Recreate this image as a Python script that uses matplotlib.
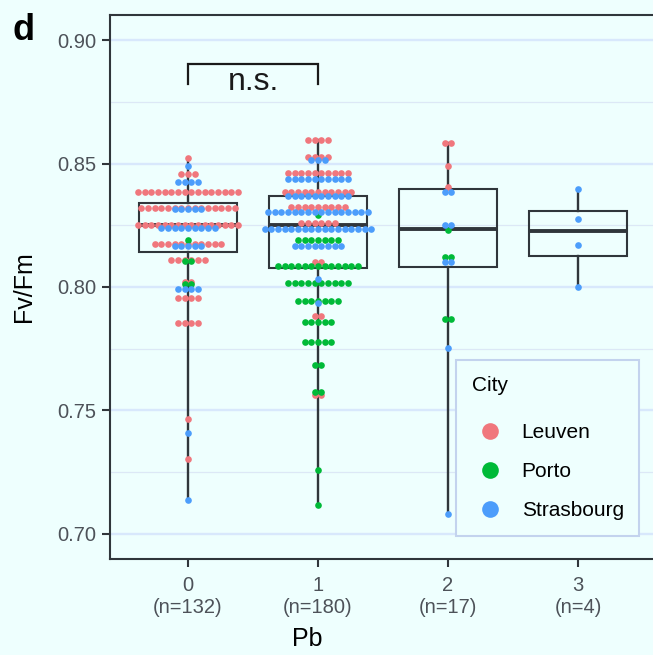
import numpy as np
import matplotlib
matplotlib.use("Agg")
import matplotlib.pyplot as plt
from matplotlib.lines import Line2D

# ================================================================================
# Fv/Fm by Pb level, dots coloured by city, boxplot behind
pb_levels = [0, 1, 2, 3]
n_obs = [132, 180, 17, 4]
cities = ["Leuven", "Porto", "Strasbourg"]
city_colors = ["#F0777D", "#00BA38", "#4C9DFB"]

# Leuven: pb level, Fv/Fm value, number of dots at that value
leuven_pb = [0, 0, 0, 0, 0, 0, 0, 0, 0, 0, 0, 0,
             1, 1, 1, 1, 1, 1, 1, 1, 1,
             2, 2, 2]
leuven_fv = [0.8521, 0.8459, 0.8383, 0.8319, 0.8251, 0.8173, 0.8109, 0.8022, 0.7954, 0.7853, 0.7465, 0.7304,
             0.8595, 0.8528, 0.8460, 0.8386, 0.8325, 0.8258, 0.8100, 0.7884, 0.7564,
             0.8584, 0.8490, 0.8403]
leuven_cnt = [1, 3, 16, 15, 16, 11, 6, 2, 4, 4, 1, 1,
              4, 4, 10, 11, 9, 6, 2, 2, 2,
              2, 1, 1]

porto_pb = [0, 0, 0,
            1, 1, 1, 1, 1, 1, 1, 1, 1, 1, 1,
            2, 2, 2]
porto_fv = [0.8190, 0.8104, 0.8011,
            0.8290, 0.8190, 0.8085, 0.8015, 0.7945, 0.7860, 0.7777, 0.7683, 0.7574, 0.7261, 0.7116,
            0.8230, 0.8122, 0.7872]
porto_cnt = [1, 2, 2,
             1, 7, 13, 10, 7, 5, 5, 2, 2, 1, 1,
             1, 2, 2]

strasbourg_pb = [0, 0, 0, 0, 0, 0, 0, 0,
                 1, 1, 1, 1, 1, 1, 1, 1,
                 2, 2, 2, 2, 2,
                 3, 3, 3, 3]
strasbourg_fv = [0.8491, 0.8425, 0.8315, 0.8238, 0.8166, 0.7991, 0.7410, 0.7137,
                 0.8514, 0.8437, 0.8370, 0.8305, 0.8235, 0.8166, 0.8031, 0.7937,
                 0.8385, 0.8253, 0.8100, 0.7753, 0.7079,
                 0.8395, 0.8277, 0.8169, 0.7998]
strasbourg_cnt = [1, 4, 5, 9, 5, 4, 1, 1,
                  3, 10, 10, 16, 17, 8, 1, 1,
                  2, 2, 2, 1, 1,
                  1, 1, 1, 1]

# box statistics (whiskers go to min / max)
box_lo = [0.7137, 0.7116, 0.7079, 0.7998]
box_q1 = [0.8143, 0.8076, 0.8081, 0.8126]
box_med = [0.8250, 0.8251, 0.8234, 0.8226]
box_q3 = [0.8341, 0.8368, 0.8395, 0.8308]
box_hi = [0.8521, 0.8595, 0.8584, 0.8395]

# ================================================================================
bg = "#EEFFFE"
dark = "#30363B"
plt.rcParams["font.family"] = ["Liberation Sans", "DejaVu Sans"]

W, H = 653, 655
fig = plt.figure(figsize=(W / 100, H / 100), dpi=100, facecolor=bg)
ax = fig.add_axes([110 / W, 1 - 559 / H, 1 - 110 / W, (559 - 15) / H])
ax.set_facecolor(bg)

ax.set_xlim(-0.6, (W - 188) / 130)
ax.set_ylim(0.68987, 0.91013)

# gridlines
ax.set_yticks([0.70, 0.75, 0.80, 0.85, 0.90])
ax.set_yticks([0.725, 0.775, 0.825, 0.875], minor=True)
ax.grid(axis="y", which="major", color="#D8E8FC", lw=1.7, zorder=0)
ax.grid(axis="y", which="minor", color="#DCE8F6", lw=0.9, zorder=0)
ax.set_axisbelow(True)

# boxplots
stats = []
for i in range(len(pb_levels)):
    stats.append(dict(whislo=box_lo[i], q1=box_q1[i], med=box_med[i],
                      q3=box_q3[i], whishi=box_hi[i], fliers=[]))
ax.bxp(stats, positions=pb_levels, widths=0.75, showfliers=False, showcaps=False,
       patch_artist=True, manage_ticks=False,
       boxprops=dict(facecolor="none", edgecolor=dark, lw=1.5),
       whiskerprops=dict(color=dark, lw=1.7),
       medianprops=dict(color=dark, lw=2.8, solid_capstyle="butt"),
       zorder=2)

# dots: same values laid side by side, centred on the pb level
step = 0.0513
city_data = [(leuven_pb, leuven_fv, leuven_cnt),
             (porto_pb, porto_fv, porto_cnt),
             (strasbourg_pb, strasbourg_fv, strasbourg_cnt)]
for (pbs, fvs, cnts), col in zip(city_data, city_colors):
    xs, ys = [], []
    for p, v, c in zip(pbs, fvs, cnts):
        off = (np.arange(c) - (c - 1) / 2) * step
        xs.extend(p + off)
        ys.extend([v] * c)
    ax.scatter(xs, ys, s=23, color=col, linewidths=0, zorder=3)

# significance bracket
ax.plot([0, 0, 1, 1], [0.8822, 0.8902, 0.8902, 0.8822], color="#1A1A1A", lw=1.6,
        solid_joinstyle="miter", zorder=4)
ax.text(0.5, 0.8797, "n.s.", ha="center", va="baseline", fontsize=23,
        family=["Liberation Sans Narrow", "Liberation Sans"], color="#1A1A1A")

# axes styling
for s in ["left", "bottom", "top"]:
    ax.spines[s].set_color(dark)
    ax.spines[s].set_linewidth(1.5)
ax.spines["right"].set_visible(False)

ax.set_xticks(pb_levels)
ax.set_xticklabels([f"{p}\n(n={n})" for p, n in zip(pb_levels, n_obs)])
ax.set_yticklabels(["0.70", "0.75", "0.80", "0.85", "0.90"])
ax.tick_params(axis="both", which="major", colors=dark, width=1.5, length=6,
               labelsize=14.5, labelcolor="#4D5259")
ax.tick_params(axis="x", pad=6)
ax.tick_params(axis="y", pad=4)
ax.tick_params(axis="y", which="minor", length=0)

ax.set_xlabel("Pb", fontsize=18, color="black")
ax.xaxis.set_label_coords((307 - 110) / (W - 110), -68 / (559 - 15), transform=ax.transAxes)
ax.set_ylabel("Fv/Fm", fontsize=18, color="black")
ax.yaxis.set_label_coords(-74 / (W - 110), 0.5)

# legend
handles = [Line2D([], [], ls="none", marker="o", ms=12, color=c, mec="none") for c in city_colors]
leg = ax.legend(handles, cities, title="City", loc="upper left",
                bbox_to_anchor=(456 / W, 1 - 360 / H), bbox_transform=fig.transFigure,
                borderaxespad=0, fontsize=15, title_fontsize=15, frameon=True,
                fancybox=False, framealpha=1, facecolor=bg, edgecolor="#C3D3EE",
                handlelength=1.8, handletextpad=0.6, labelspacing=0.95,
                borderpad=0.75, alignment="left")
leg.get_frame().set_linewidth(1.5)
leg._legend_box.sep = 0.95 * 15 + 6.5  # a bit more room under the title

fig.text(12 / W, 1 - 40 / H, "d", fontsize=26, fontweight="bold", va="baseline")

plt.savefig("out.png", dpi=100, facecolor=bg)
